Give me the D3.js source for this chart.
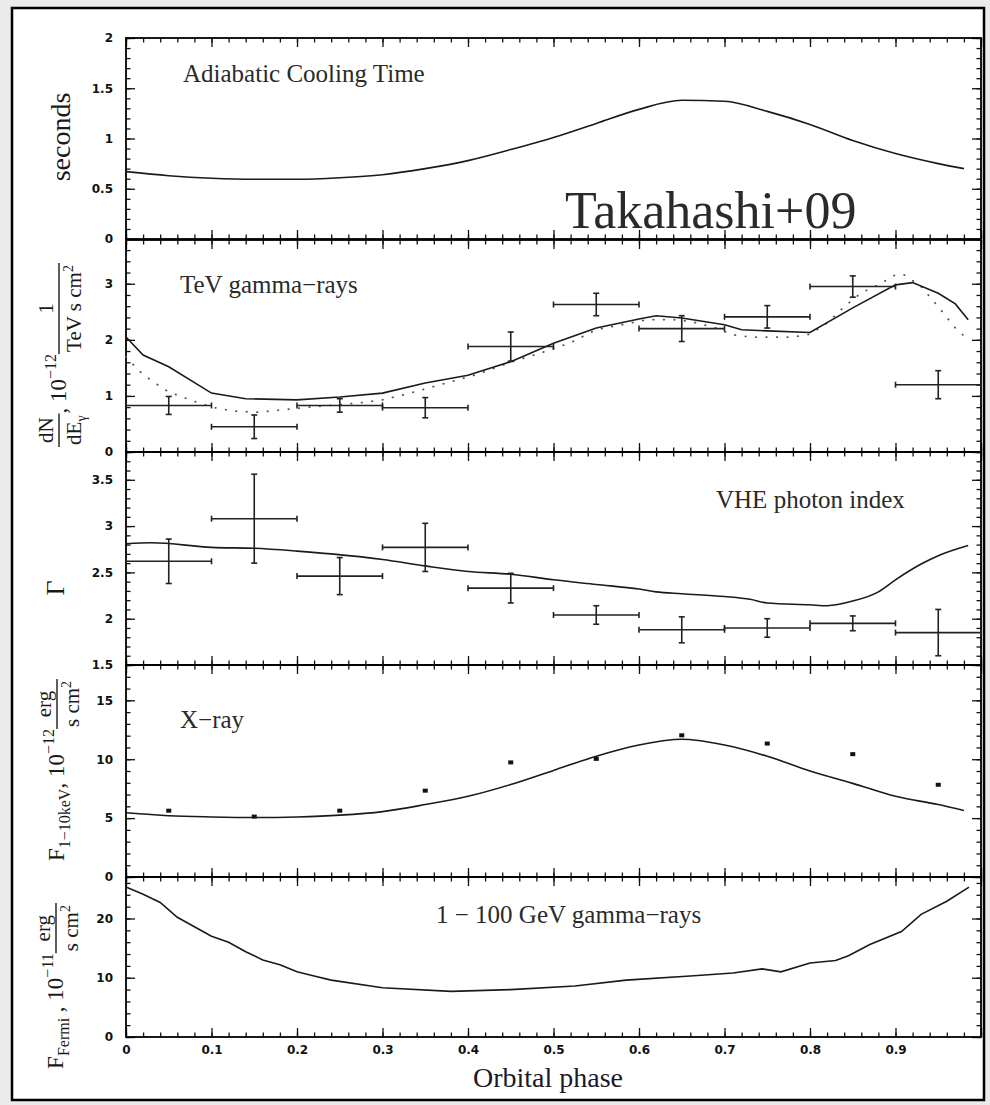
<!DOCTYPE html>
<html>
<head>
<meta charset="utf-8">
<script src="https://cdn.jsdelivr.net/npm/d3@7"></script>
<style>
body { margin: 0; background: #ebebeb; }
svg { display: block; }
</style>
</head>
<body>
<script>
// ---- data ----
// adiabatic cooling time (seconds)
var coolPhase = [0, 0.05, 0.1, 0.15, 0.2, 0.25, 0.3, 0.35, 0.4, 0.45, 0.5, 0.55, 0.6, 0.65, 0.7, 0.75, 0.8, 0.85, 0.9, 0.95, 0.98];
var coolTime = [0.67, 0.63, 0.605, 0.595, 0.595, 0.61, 0.64, 0.70, 0.78, 0.89, 1.01, 1.15, 1.29, 1.38, 1.37, 1.27, 1.14, 0.98, 0.85, 0.75, 0.70];

// TeV flux model (solid) and alternative model (dotted)
var tevPhase = [0, 0.02, 0.05, 0.1, 0.14, 0.2, 0.25, 0.3, 0.35, 0.4, 0.45, 0.5, 0.55, 0.6, 0.62, 0.65, 0.7, 0.72, 0.75, 0.8, 0.85, 0.9, 0.92, 0.95, 0.97, 0.985];
var tevModel = [2.05, 1.73, 1.52, 1.05, 0.95, 0.93, 0.98, 1.05, 1.23, 1.37, 1.61, 1.94, 2.21, 2.37, 2.43, 2.39, 2.27, 2.18, 2.16, 2.13, 2.57, 2.98, 3.02, 2.83, 2.64, 2.36];
var dotPhase = [0, 0.015, 0.03, 0.05, 0.075, 0.1, 0.125, 0.155, 0.195, 0.23, 0.27, 0.3, 0.33, 0.37, 0.41, 0.45, 0.49, 0.52, 0.55, 0.58, 0.61, 0.64, 0.66, 0.69, 0.71, 0.73, 0.78, 0.8, 0.82, 0.84, 0.86, 0.88, 0.9, 0.91, 0.93, 0.95, 0.97, 0.985];
var dotModel = [1.7, 1.45, 1.27, 1.07, 0.93, 0.8, 0.73, 0.71, 0.77, 0.82, 0.87, 0.93, 1.04, 1.21, 1.38, 1.6, 1.79, 1.95, 2.18, 2.27, 2.36, 2.36, 2.33, 2.21, 2.09, 2.05, 2.05, 2.1, 2.3, 2.59, 2.84, 2.98, 3.16, 3.16, 2.95, 2.59, 2.21, 2.0];

// phase bins of the measurements
var binCenter = [0.05, 0.15, 0.25, 0.35, 0.45, 0.55, 0.65, 0.75, 0.85, 0.95];
var binHalf = 0.05;

// TeV flux points
var tevFlux = [0.83, 0.45, 0.83, 0.79, 1.88, 2.63, 2.20, 2.41, 2.95, 1.20];
var tevErr = [0.16, 0.21, 0.12, 0.18, 0.26, 0.20, 0.23, 0.20, 0.19, 0.25];

// VHE photon index
var idxVal = [2.62, 3.08, 2.46, 2.77, 2.33, 2.04, 1.88, 1.90, 1.95, 1.85];
var idxErr = [0.24, 0.48, 0.20, 0.26, 0.16, 0.10, 0.14, 0.10, 0.08, 0.25];
var idxPhase = [0, 0.03, 0.1, 0.15, 0.2, 0.24, 0.3, 0.35, 0.4, 0.45, 0.5, 0.55, 0.6, 0.62, 0.65, 0.7, 0.73, 0.75, 0.8, 0.82, 0.85, 0.88, 0.9, 0.93, 0.95, 0.985];
var idxModel = [2.81, 2.82, 2.77, 2.76, 2.73, 2.70, 2.64, 2.57, 2.51, 2.48, 2.42, 2.37, 2.32, 2.29, 2.27, 2.24, 2.21, 2.17, 2.15, 2.14, 2.19, 2.29, 2.42, 2.59, 2.68, 2.79];

// X-ray flux
var xrVal = [5.6, 5.1, 5.6, 7.3, 9.7, 10.0, 12.0, 11.3, 10.4, 7.8];
var xrErr = [0.2, 0.2, 0.2, 0.2, 0.2, 0.2, 0.2, 0.2, 0.2, 0.2];
var xrPhase = [0, 0.05, 0.1, 0.15, 0.2, 0.25, 0.3, 0.35, 0.4, 0.45, 0.5, 0.55, 0.6, 0.65, 0.7, 0.75, 0.8, 0.85, 0.9, 0.95, 0.98];
var xrModel = [5.45, 5.2, 5.1, 5.05, 5.1, 5.25, 5.55, 6.15, 6.85, 7.85, 9.05, 10.25, 11.2, 11.7, 11.2, 10.25, 9.0, 7.95, 6.85, 6.15, 5.65];

// Fermi 1-100 GeV flux
var fePhase = [0, 0.02, 0.04, 0.06, 0.08, 0.1, 0.12, 0.14, 0.16, 0.18, 0.2, 0.22, 0.24, 0.3, 0.38, 0.45, 0.525, 0.585, 0.66, 0.71, 0.744, 0.766, 0.8, 0.83, 0.845, 0.87, 0.907, 0.93, 0.96, 0.986];
var feModel = [25.3, 24.1, 22.7, 20.2, 18.6, 17.0, 16.0, 14.4, 13.0, 12.2, 11.0, 10.3, 9.6, 8.3, 7.7, 8.0, 8.6, 9.6, 10.3, 10.8, 11.5, 11.0, 12.5, 12.9, 13.7, 15.6, 17.8, 20.7, 22.9, 25.3];

var xMajor = [0, 0.1, 0.2, 0.3, 0.4, 0.5, 0.6, 0.7, 0.8, 0.9, 1];

// ---- drawing ----
var W = 990, H = 1105;
var svg = d3.select("body").append("svg").attr("width", W).attr("height", H);

svg.append("rect").attr("width", W).attr("height", H).attr("fill", "#ebebeb");
svg.append("rect").attr("x", 12).attr("y", 8).attr("width", 972).attr("height", 1092)
	.attr("fill", "#fff").attr("stroke", "#000").attr("stroke-width", 2.5);

var x = d3.scaleLinear().domain([0, 1]).range([126, 981]);

var panels = [
	{top: 38, bottom: 239, domain: [0, 2], major: [0, 0.5, 1, 1.5, 2], minor: 0.1},
	{top: 240, bottom: 452, domain: [0, 3.78], major: [0, 1, 2, 3], minor: 0.2},
	{top: 452, bottom: 665, domain: [1.5, 3.8], major: [1.5, 2, 2.5, 3, 3.5], minor: 0.1},
	{top: 665, bottom: 877, domain: [0, 18], major: [0, 5, 10, 15], minor: 1},
	{top: 877, bottom: 1037, domain: [0, 27], major: [0, 10, 20], minor: 2}
];

var fmt = d3.format("~g");
function clean(g) {
	g.select(".domain").remove();
	g.selectAll("line").attr("stroke", "#111").attr("stroke-width", 1.3);
	g.selectAll("text").attr("font-size", 12).attr("fill", "#111")
		.attr("font-family", "'DejaVu Sans', sans-serif")
		.attr("font-weight", "bold");
}

panels.forEach(function(p, i) {
	p.y = d3.scaleLinear().domain(p.domain).range([p.bottom, p.top]);
	var n = Math.floor((p.domain[1] - p.domain[0]) / p.minor + 1e-6);
	var minorY = d3.range(0, n + 1).map(k => +(p.domain[0] + k * p.minor).toFixed(4));
	var minorX = d3.range(0, 51).map(k => k / 50);
	var last = i === panels.length - 1;

	var ax = svg.append("g").attr("class", "axes");

	ax.append("g").attr("transform", "translate(126,0)")
		.call(d3.axisLeft(p.y).tickValues(p.major).tickSize(-9).tickPadding(13).tickFormat(fmt)).call(clean);
	ax.append("g").attr("transform", "translate(126,0)")
		.call(d3.axisLeft(p.y).tickValues(minorY).tickSize(-4.5).tickFormat("")).call(clean);
	ax.append("g").attr("transform", "translate(981,0)")
		.call(d3.axisRight(p.y).tickValues(p.major).tickSize(-9).tickFormat("")).call(clean);
	ax.append("g").attr("transform", "translate(981,0)")
		.call(d3.axisRight(p.y).tickValues(minorY).tickSize(-4.5).tickFormat("")).call(clean);

	ax.append("g").attr("transform", "translate(0," + p.top + ")")
		.call(d3.axisTop(x).tickValues(xMajor).tickSize(-9).tickFormat("")).call(clean);
	ax.append("g").attr("transform", "translate(0," + p.top + ")")
		.call(d3.axisTop(x).tickValues(minorX).tickSize(-4.5).tickFormat("")).call(clean);
	ax.append("g").attr("transform", "translate(0," + p.bottom + ")")
		.call(d3.axisBottom(x).tickValues(xMajor).tickSize(-9).tickPadding(8)
			.tickFormat(d => (last && d < 0.95) ? fmt(d) : "")).call(clean);
	ax.append("g").attr("transform", "translate(0," + p.bottom + ")")
		.call(d3.axisBottom(x).tickValues(minorX).tickSize(-4.5).tickFormat("")).call(clean);

	svg.append("rect").attr("x", 126).attr("y", p.top)
		.attr("width", 981 - 126).attr("height", p.bottom - p.top)
		.attr("fill", "none").attr("stroke", "#000").attr("stroke-width", 1.8);
});

function curve(panel, xs, ys, dashed, smooth) {
	var line = d3.line().x(d => x(d[0])).y(d => panel.y(d[1]));
	if (smooth) line.curve(d3.curveMonotoneX);
	var path = svg.append("path").datum(d3.zip(xs, ys))
		.attr("d", line).attr("fill", "none");
	if (dashed) {
		path.attr("stroke", "#555").attr("stroke-width", 1.8)
			.attr("stroke-dasharray", "0.5,10").attr("stroke-linecap", "round");
	} else {
		path.attr("stroke", "#1a1a1a").attr("stroke-width", 1.6);
	}
}

function errorBars(panel, vals, errs) {
	var g = svg.append("g").attr("stroke", "#222").attr("stroke-width", 1.6);
	var cap = 3;
	binCenter.forEach(function(c, i) {
		var cx = x(c), cy = panel.y(vals[i]);
		var x0 = x(c - binHalf), x1 = x(c + binHalf);
		var y0 = panel.y(vals[i] - errs[i]), y1 = panel.y(vals[i] + errs[i]);
		g.append("line").attr("x1", x0).attr("x2", x1).attr("y1", cy).attr("y2", cy);
		g.append("line").attr("x1", x0).attr("x2", x0).attr("y1", cy - cap).attr("y2", cy + cap);
		g.append("line").attr("x1", x1).attr("x2", x1).attr("y1", cy - cap).attr("y2", cy + cap);
		g.append("line").attr("x1", cx).attr("x2", cx).attr("y1", y0).attr("y2", y1);
		g.append("line").attr("x1", cx - cap).attr("x2", cx + cap).attr("y1", y0).attr("y2", y0);
		g.append("line").attr("x1", cx - cap).attr("x2", cx + cap).attr("y1", y1).attr("y2", y1);
	});
}

// panel 1
curve(panels[0], coolPhase, coolTime, false, true);
// panel 2
curve(panels[1], dotPhase, dotModel, true);
curve(panels[1], tevPhase, tevModel);
errorBars(panels[1], tevFlux, tevErr);
// panel 3
curve(panels[2], idxPhase, idxModel, false, true);
errorBars(panels[2], idxVal, idxErr);
// panel 4
curve(panels[3], xrPhase, xrModel, false, true);
svg.append("g").selectAll("rect").data(binCenter).enter().append("rect")
	.attr("x", d => x(d) - 2.5).attr("width", 5)
	.attr("y", (d, i) => panels[3].y(xrVal[i] + xrErr[i])).attr("height", 4)
	.attr("fill", "#111");
// panel 5
curve(panels[4], fePhase, feModel);

// ---- texts ----
var serif = "'Liberation Serif', 'Times New Roman', serif";
function title(tx, ty, s, size) {
	svg.append("text").attr("x", tx).attr("y", ty).attr("font-family", serif)
		.attr("font-size", size || 25).attr("fill", "#2a2a2a").text(s);
}
title(183, 82, "Adiabatic Cooling Time");
title(180, 293, "TeV gamma\u2212rays");
title(716, 508, "VHE photon index");
title(180, 728, "X\u2212ray");
title(436, 923, "1 \u2212 100 GeV gamma\u2212rays");
title(565, 228, "Takahashi+09", 52);

svg.append("text").attr("x", 548).attr("y", 1087).attr("text-anchor", "middle")
	.attr("font-family", serif).attr("font-size", 28).attr("fill", "#1a1a2a").text("Orbital phase");

// rotated axis titles built from pieces: plain runs and fractions
function spanText(parent, u, v, spans) {
	var t = parent.append("text").attr("x", u).attr("y", v)
		.attr("font-family", serif).attr("fill", "#1a1a1a");
	var cur = 0;
	spans.forEach(function(sp) {
		var sh = sp.shift || 0;
		t.append("tspan").attr("font-size", sp.size).attr("dy", sh - cur).text(sp.s);
		cur = sh;
	});
	return t;
}

function rotLabel(px, py, pieces) {
	var g = svg.append("g").attr("transform", "translate(" + px + "," + py + ") rotate(-90)");
	var inner = g.append("g");
	var u = 0;
	pieces.forEach(function(p) {
		if (p.num) {
			var nt = spanText(inner, 0, -13, p.num), dt = spanText(inner, 0, 15, p.den);
			var wn = nt.node().getComputedTextLength(), wd = dt.node().getComputedTextLength();
			var w = Math.max(wn, wd) + 4;
			nt.attr("x", u + (w - wn) / 2);
			dt.attr("x", u + (w - wd) / 2);
			inner.append("line").attr("x1", u).attr("x2", u + w).attr("y1", -7).attr("y2", -7)
				.attr("stroke", "#1a1a1a").attr("stroke-width", 1.4);
			u += w;
		} else {
			var t = spanText(inner, u, 0, p.text);
			u += t.node().getComputedTextLength();
		}
	});
	inner.attr("transform", "translate(" + (-u / 2) + ",0)");
}

rotLabel(70, 137, [{text: [{s: "seconds", size: 28}]}]);
rotLabel(66, 355, [
	{num: [{s: "dN", size: 21}], den: [{s: "dE", size: 21}, {s: "\u03b3", size: 14, shift: 5}]},
	{text: [{s: " , 10", size: 23}, {s: "\u221212", size: 16, shift: -10}, {s: " ", size: 22}]},
	{num: [{s: "1", size: 21}], den: [{s: "TeV s cm", size: 21}, {s: "2", size: 14, shift: -8}]}
]);
rotLabel(64, 588, [{text: [{s: "\u0393", size: 26}]}]);
rotLabel(64, 770, [
	{text: [{s: "F", size: 23}, {s: "1\u221210keV", size: 16, shift: 6}, {s: ", 10", size: 23, shift: 0}, {s: "\u221212", size: 16, shift: -10}, {s: " ", size: 22}]},
	{num: [{s: "erg", size: 21}], den: [{s: "s cm", size: 21}, {s: "2", size: 14, shift: -8}]}
]);
rotLabel(63, 986, [
	{text: [{s: "F", size: 23}, {s: "Fermi", size: 16, shift: 6}, {s: " , 10", size: 23, shift: 0}, {s: "\u221211", size: 16, shift: -10}, {s: " ", size: 22}]},
	{num: [{s: "erg", size: 21}], den: [{s: "s cm", size: 21}, {s: "2", size: 14, shift: -8}]}
]);
</script>
</body>
</html>
